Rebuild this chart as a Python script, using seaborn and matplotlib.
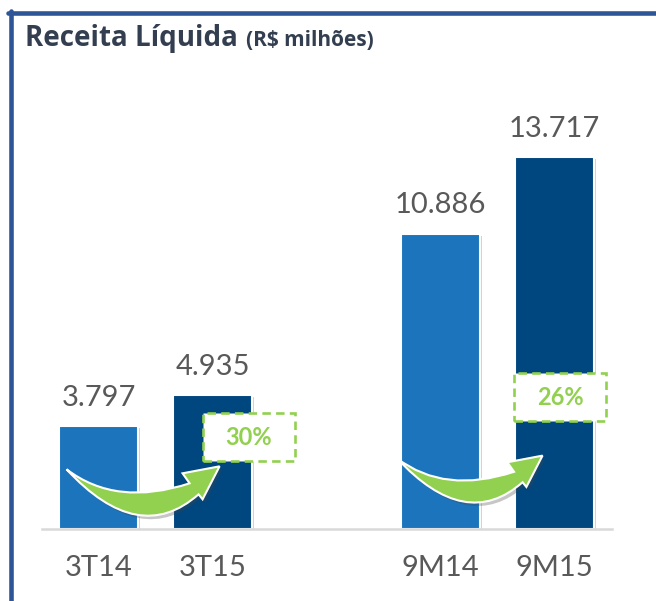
import numpy as np
import pandas as pd
import seaborn as sns
import matplotlib.pyplot as plt
import matplotlib.patheffects as pe
from matplotlib.patches import Rectangle, PathPatch
from matplotlib.path import Path
from matplotlib.lines import Line2D

# dados do grafico
periodos = ["3T14", "3T15", "9M14", "9M15"]
receita = [3797, 4935, 10886, 13717]
rotulos = ["3.797", "4.935", "10.886", "13.717"]
crescimento = ["30%", "26%"]
posicoes = [0, 1, 3, 4]   # espaco vazio entre trimestre e 9 meses
cores = ["#1C75BC", "#00467F", "#1C75BC", "#00467F"]

verde = "#92D050"
cinza = "#595959"

sns.set_theme(style="white")
plt.rcParams["font.family"] = ["Lato", "DejaVu Sans"]

fig = plt.figure(figsize=(6.56, 6.01), dpi=100)
ax = fig.add_axes([41.5 / 656, 72 / 601, 570 / 656, 434 / 601])

df = pd.DataFrame({"pos": posicoes, "valor": receita, "periodo": periodos})
sns.barplot(data=df, x="pos", y="valor", hue="periodo", palette=cores, saturation=1,
            native_scale=True, width=0.69, dodge=False, legend=False,
            edgecolor="white", linewidth=1.5, ax=ax)
for bar in ax.patches:
    bar.set_path_effects([pe.SimplePatchShadow(offset=(1.5, -1.5), shadow_rgbFace="#7f7f7f", alpha=0.35),
                          pe.Normal()])

ax.set_xlim(-0.5, 4.5)
ax.set_ylim(0, 16000)
for s in ["top", "left", "right"]:
    ax.spines[s].set_visible(False)
ax.spines["bottom"].set_color("#D9D9D9")
ax.spines["bottom"].set_linewidth(1.8)
ax.set_yticks([])
ax.set_xticks(posicoes)
ax.set_xticklabels(periodos, fontsize=21, color=cinza)
ax.tick_params(axis="x", length=0, pad=19)
ax.set_xlabel("")
ax.set_ylabel("")

# rotulos de valor
for p, v, r in zip(posicoes, receita, rotulos):
    ax.annotate(r, (p, v), xytext=(0, 11), textcoords="offset points",
                ha="center", va="bottom", fontsize=21, color=cinza)


def seta_curva(anchor, escala):
    # seta em crescente, desenhada em pixels a partir da ponta da cauda
    forma = np.array([(0, 0), (50, 38), (123, 14), (116, 4), (153, -3),
                      (136, 30), (132, 25), (72, 78), (0, 0), (0, 0)], float) * escala
    codigos = [Path.MOVETO, Path.CURVE3, Path.CURVE3, Path.LINETO, Path.LINETO,
               Path.LINETO, Path.LINETO, Path.CURVE3, Path.CURVE3, Path.CLOSEPOLY]
    base = ax.transData.transform(anchor)
    disp = base + forma * np.array([1, -1])
    dados = ax.transData.inverted().transform(disp)
    return PathPatch(Path(dados, codigos), fc=verde, ec="white", lw=1.5, zorder=5)


# setas de crescimento e caixas com percentual
ancoras = [(posicoes[0] - 0.28, 2200), (posicoes[2] - 0.38, 2600)]
escalas = [1.0, 0.95]
caixas = [(posicoes[1] + 0.32, 3389), (posicoes[3] + 0.05, 4862)]
for anc, esc, (cx, cy), txt in zip(ancoras, escalas, caixas, crescimento):
    seta = seta_curva(anc, esc)
    seta.set_path_effects([pe.SimplePatchShadow(offset=(2, -2.5), shadow_rgbFace="#444444", alpha=0.3),
                           pe.Normal()])
    ax.add_patch(seta)
    w, h = 0.807, 1768
    ax.add_patch(Rectangle((cx - w / 2, cy - h / 2), w, h, fc="white", ec=verde,
                           lw=1.9, ls=(0, (3.2, 2)), zorder=6))
    ax.text(cx, cy, txt, ha="center", va="center", fontsize=17,
            fontweight="bold", color=verde, zorder=7)

# titulo
titulo = fig.text(25 / 656, 1 - 46 / 601, "Receita Líquida", fontsize=20, fontweight="bold",
                  family=["Open Sans", "DejaVu Sans"], color="#333F50", va="baseline", ha="left")
fig.canvas.draw()
fig.text(titulo.get_window_extent().x1 / 656 + 8 / 656, 1 - 46 / 601, "(R$ milhões)",
         fontsize=15, fontweight="bold", family=["Open Sans", "DejaVu Sans"],
         color="#333F50", va="baseline", ha="left")

# moldura azul
moldura = "#2E5597"
fig.add_artist(Line2D([8 / 656, 1], [1 - 13 / 601] * 2, transform=fig.transFigure,
                      color=moldura, lw=3.3))
fig.add_artist(Line2D([10.5 / 656] * 2, [0, 1 - 11 / 601], transform=fig.transFigure,
                      color=moldura, lw=3.3))

fig.savefig("out.png", dpi=100)
